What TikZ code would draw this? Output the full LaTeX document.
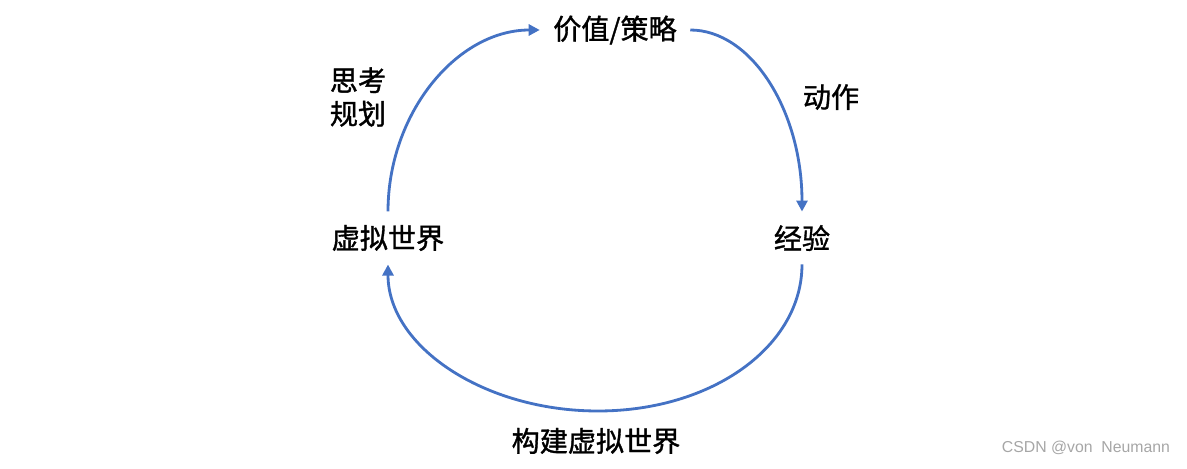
\documentclass[tikz,border=0pt]{standalone}
\usepackage{fontspec}
\setmainfont{Liberation Sans}
\newfontfamily\cjk[FakeBold=1.2]{Noto Sans CJK SC}
\usetikzlibrary{arrows.meta}
\definecolor{loopblue}{HTML}{4472C4}

\begin{document}
\begin{tikzpicture}[
  x=0.02cm, y=-0.02cm,
  stage/.style={font=\cjk\fontsize{16}{19}\selectfont, inner sep=7.5pt},
  lbl/.style={font=\cjk\fontsize{16}{19}\selectfont, align=left, inner sep=0pt},
  arr/.style={-{Triangle[length=2.2mm, width=2.2mm]}, draw=loopblue, line width=1.6pt}
]
\useasboundingbox (0,0) rectangle (1187,469);
\node[stage] (policy) at (615,30) {价值/策略};
\node[stage] (exp) at (802,238) {经验};
\node[stage] (world) at (388,238) {虚拟世界};
\node[lbl] (act) at (831,97) {动作};
\node[lbl] (plan) at (358,97) {思考\\规划};
\node[lbl] (build) at (596,441) {构建虚拟世界};
\coordinate (bottom) at (598,411);
\node[font=\fontsize{9}{11}\selectfont, text=gray!70] (mark) at (1086,448) {CSDN @von\ \ Neumann};
\draw[arr] (world.north) .. controls +(0,-98) and +(-83,0) .. (policy.west);
\draw[arr] (policy.east) .. controls +(61,0) and +(0,-101) .. (exp.north);
\draw[arr] (exp.south) .. controls +(0,82) and +(114,0) .. (bottom)
  .. controls +(-114,0) and +(0,82) .. (world.south);
\end{tikzpicture}
\end{document}
